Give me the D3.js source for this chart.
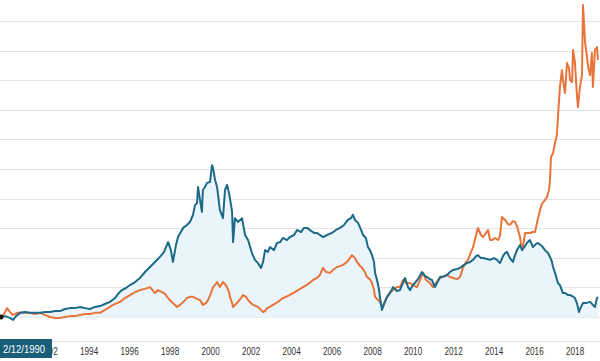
<!DOCTYPE html>
<html><head><meta charset="utf-8">
<script src="https://cdn.jsdelivr.net/npm/d3@7"></script>
<style>html,body{margin:0;padding:0;background:#fff;}svg{display:block;}</style>
</head><body>
<svg id="chart" width="600" height="361"></svg>
<script>
const tealYears = [1990.10,1990.30,1990.54,1990.69,1990.84,1991.04,1991.28,1991.53,1991.78,1992.02,1992.27,1992.52,1992.77,1993.01,1993.26,1993.51,1993.75,1994.00,1994.25,1994.49,1994.74,1994.99,1995.23,1995.48,1995.73,1995.88,1996.07,1996.27,1996.47,1996.72,1996.96,1997.21,1997.46,1997.70,1997.95,1998.15,1998.35,1998.49,1998.59,1998.74,1998.84,1999.09,1999.28,1999.43,1999.58,1999.68,1999.78,1999.83,1999.93,2000.02,2000.07,2000.17,2000.27,2000.42,2000.52,2000.57,2000.67,2000.77,2000.91,2001.06,2001.16,2001.26,2001.36,2001.46,2001.51,2001.56,2001.65,2001.80,2002.00,2002.15,2002.30,2002.49,2002.64,2002.79,2002.94,2003.04,2003.14,2003.28,2003.38,2003.58,2003.73,2003.88,2004.02,2004.22,2004.37,2004.57,2004.72,2004.91,2005.06,2005.21,2005.41,2005.56,2005.70,2005.85,2006.00,2006.20,2006.44,2006.64,2006.84,2007.04,2007.23,2007.38,2007.48,2007.58,2007.73,2007.88,2007.98,2008.12,2008.22,2008.32,2008.42,2008.52,2008.57,2008.67,2008.77,2008.81,2008.91,2009.01,2009.16,2009.31,2009.46,2009.65,2009.80,2009.95,2010.05,2010.20,2010.30,2010.44,2010.54,2010.69,2010.89,2011.04,2011.14,2011.28,2011.38,2011.53,2011.63,2011.78,2011.98,2012.12,2012.27,2012.42,2012.62,2012.77,2012.96,2013.11,2013.26,2013.41,2013.56,2013.65,2013.80,2013.90,2014.10,2014.25,2014.44,2014.59,2014.74,2014.89,2014.99,2015.09,2015.23,2015.38,2015.48,2015.58,2015.73,2015.83,2015.98,2016.07,2016.22,2016.37,2016.52,2016.62,2016.81,2016.96,2017.11,2017.21,2017.31,2017.36,2017.46,2017.60,2017.70,2017.85,2017.95,2018.10,2018.20,2018.30,2018.44,2018.54,2018.64,2018.74,2018.84,2018.99,2019.19,2019.33,2019.43,2019.53,2019.58];
const tealValues = [0,3,-3,-10,3,14,17,14,14,14,17,17,20,20,27,30,30,34,30,27,34,37,44,51,64,78,91,98,108,118,132,152,169,186,203,220,253,226,186,243,270,301,311,321,345,378,385,439,395,355,429,439,453,456,513,503,463,439,361,334,429,446,419,378,355,253,334,321,334,277,260,216,193,182,166,186,226,220,236,226,250,253,267,260,270,277,294,287,301,301,291,284,284,277,270,277,284,294,301,311,328,334,345,328,318,294,277,267,236,226,209,186,149,125,91,68,24,44,68,81,101,88,91,115,132,101,91,108,115,128,152,138,135,128,125,101,115,135,138,142,152,159,162,166,176,182,186,193,206,209,199,199,196,193,199,193,182,206,216,220,199,186,209,226,243,226,240,250,260,236,247,250,240,226,216,203,186,169,149,115,108,81,81,74,74,71,64,47,17,34,47,47,51,41,34,64,68];

const orangeYears = [1990.10,1990.25,1990.40,1990.54,1990.69,1990.89,1991.04,1991.28,1991.53,1991.78,1992.02,1992.27,1992.52,1992.77,1993.01,1993.26,1993.51,1993.75,1994.00,1994.25,1994.49,1994.74,1994.99,1995.23,1995.48,1995.63,1995.83,1995.98,1996.22,1996.47,1996.72,1996.96,1997.21,1997.46,1997.70,1997.85,1998.05,1998.20,1998.30,1998.44,1998.59,1998.79,1998.94,1999.04,1999.19,1999.28,1999.43,1999.58,1999.78,1999.93,2000.07,2000.22,2000.32,2000.47,2000.57,2000.67,2000.77,2000.91,2001.06,2001.16,2001.26,2001.36,2001.41,2001.51,2001.56,2001.70,2001.80,2001.95,2002.05,2002.20,2002.30,2002.44,2002.54,2002.69,2002.79,2002.94,2003.04,2003.14,2003.24,2003.38,2003.53,2003.78,2004.02,2004.27,2004.52,2004.77,2005.01,2005.26,2005.51,2005.70,2005.85,2006.00,2006.15,2006.35,2006.49,2006.69,2006.84,2006.99,2007.19,2007.33,2007.43,2007.58,2007.68,2007.83,2007.93,2008.07,2008.17,2008.32,2008.42,2008.52,2008.57,2008.67,2008.81,2008.96,2009.06,2009.16,2009.31,2009.46,2009.65,2009.80,2009.95,2010.10,2010.30,2010.44,2010.64,2010.79,2010.94,2011.09,2011.28,2011.43,2011.58,2011.78,2011.93,2012.12,2012.27,2012.42,2012.62,2012.77,2012.91,2013.06,2013.16,2013.31,2013.41,2013.56,2013.65,2013.80,2013.90,2014.05,2014.15,2014.25,2014.35,2014.49,2014.64,2014.74,2014.84,2014.99,2015.14,2015.23,2015.38,2015.48,2015.58,2015.73,2015.83,2015.93,2015.98,2016.07,2016.22,2016.37,2016.47,2016.62,2016.72,2016.81,2016.96,2017.06,2017.16,2017.21,2017.26,2017.36,2017.46,2017.55,2017.60,2017.70,2017.80,2017.85,2017.95,2018.05,2018.15,2018.20,2018.30,2018.35,2018.44,2018.54,2018.59,2018.69,2018.79,2018.84,2018.94,2019.04,2019.09,2019.19,2019.28,2019.33,2019.43,2019.53,2019.58];
const orangeValues = [0,10,30,17,7,14,14,14,14,10,14,7,0,-3,-3,0,3,3,7,10,10,14,14,24,34,41,47,51,64,74,84,91,95,101,81,91,84,78,68,57,47,34,41,47,57,64,68,68,61,57,41,47,57,81,101,108,118,101,118,111,101,84,68,47,34,44,51,64,74,68,57,47,41,37,34,24,17,20,30,34,41,51,64,71,81,91,101,111,125,132,142,166,152,149,159,169,172,176,186,199,209,199,186,172,166,152,135,128,115,91,68,61,51,34,51,68,84,91,101,101,125,115,115,108,101,125,149,125,115,101,115,132,135,142,135,132,128,135,166,186,193,220,236,277,301,277,270,284,294,260,260,267,260,274,338,328,314,311,324,321,307,270,226,260,284,284,284,287,287,334,361,382,395,405,429,463,540,554,588,615,672,777,834,801,757,858,841,801,794,902,861,750,709,777,817,1054,929,878,845,817,892,777,902,912,868];

const tickYears = [1992,1994,1996,1998,2000,2002,2004,2006,2008,2010,2012,2014,2016,2018];
const tickLabels = ["1992","1994","1996","1998","2000","2002","2004","2006","2008","2010","2012","2014","2016","2018"];
const gridValues = [0,100,200,300,400,500,600,700,800,900,1000];
const startLabel = "2/12/1990";

const teal = tealYears.map((t,i)=>({t, v: tealValues[i]}));
const orange = orangeYears.map((t,i)=>({t, v: orangeValues[i]}));

const svg = d3.select("#chart");
const x = d3.scaleLinear().domain([1990, 2019.63]).range([-1, 599]);
const y = d3.scaleLinear().domain([0, 1000]).range([317, 21]);

svg.append("g").selectAll("line").data(gridValues.slice(1)).join("line")
  .attr("x1", 0).attr("x2", 600)
  .attr("y1", d => Math.round(y(d)) + 0.5).attr("y2", d => Math.round(y(d)) + 0.5)
  .attr("stroke", "#e3e3e3").attr("stroke-width", 1);

svg.append("line").attr("x1",0).attr("x2",600).attr("y1",341.5).attr("y2",341.5)
  .attr("stroke","#e3e3e3").attr("stroke-width",1);

const area = d3.area().x(d=>x(d.t)).y0(y(0)).y1(d=>y(d.v));
svg.append("path").datum(teal).attr("d", area).attr("fill", "#e9f5fb");
svg.append("line").attr("x1",0).attr("x2",600).attr("y1",y(0)+0.5).attr("y2",y(0)+0.5)
  .attr("stroke","#e6eef2").attr("stroke-width",1);

const line = d3.line().x(d=>x(d.t)).y(d=>y(d.v));
svg.append("path").datum(orange).attr("d", line).attr("fill","none")
  .attr("stroke","#e8743a").attr("stroke-width",2).attr("stroke-linejoin","round");
svg.append("path").datum(teal).attr("d", line).attr("fill","none")
  .attr("stroke","#1d6a88").attr("stroke-width",2).attr("stroke-linejoin","round");

svg.append("circle").attr("cx", x(teal[0].t)).attr("cy", y(teal[0].v)).attr("r", 2.5).attr("fill", "#111");

svg.append("g").selectAll("text").data(tickYears).join("text")
  .attr("transform", d => `translate(${x(d)},355) scale(0.82,1)`)
  .attr("font-family", "Arial, 'Liberation Sans', sans-serif")
  .attr("font-size", 10).attr("fill", "#333")
  .text((d,i) => tickLabels[i]);

svg.append("rect").attr("x",0).attr("y",339).attr("width",52).attr("height",19).attr("fill","#1b5e79");
svg.append("text").attr("transform","translate(3,353) scale(0.9,1)")
  .attr("font-family","Arial, 'Liberation Sans', sans-serif").attr("font-size",10.5).attr("fill","#fff")
  .text(startLabel);
</script>
</body></html>
